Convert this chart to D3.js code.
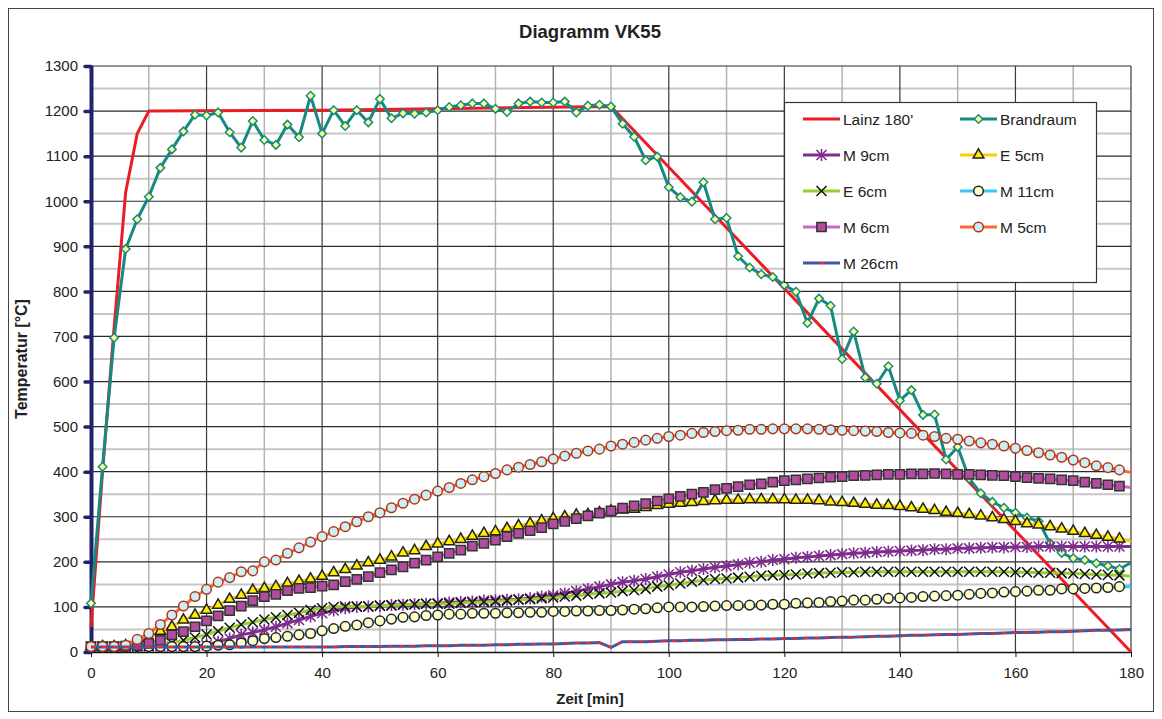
<!DOCTYPE html>
<html lang="de">
<head>
<meta charset="UTF-8">
<title>Diagramm VK55</title>
<style>
    body { margin: 0; background: #fff; }
    svg text { font-family: "Liberation Sans", Arial, sans-serif; fill: #222; }
</style>
</head>
<body>
<svg id="chart" width="1162" height="719"></svg>
<script src="https://cdnjs.cloudflare.com/ajax/libs/d3/7.8.5/d3.min.js"></script>
<script>
    // Messzeitpunkte alle 2 min
    var minutes = d3.range(0, 181, 2);

    // Lainz 180' Sollkurve (nur Knickpunkte)
    var lainzMin  = [0, 2, 4, 6, 8, 10, 40, 90, 180];
    var lainzTemp = [55, 400, 720, 1020, 1150, 1200, 1202, 1210, 0];

    var brandraum = [108, 411, 697, 894, 960, 1010, 1074, 1115, 1155, 1192, 1190, 1197, 1153, 1119, 1178, 1136,
        1125, 1170, 1142, 1234, 1150, 1202, 1167, 1202, 1175, 1227, 1184, 1195, 1194, 1197, 1202, 1209, 1213,
        1217, 1217, 1205, 1198, 1217, 1221, 1219, 1219, 1221, 1197, 1212, 1214, 1210, 1172, 1143, 1091, 1099,
        1031, 1009, 999, 1042, 960, 963, 878, 853, 838, 832, 814, 799, 730, 784, 768, 650, 711, 609, 595, 634,
        558, 581, 526, 527, 427, 455, 385, 352, 333, 320, 309, 298, 290, 241, 220, 208, 204, 197, 191, 184, 198];

    var m9 = [12, 12, 12, 12, 12, 12, 12, 12, 12, 13, 15, 23, 30, 38, 43, 49, 56, 64, 71, 79, 86, 92, 97, 100,
        101, 102, 104, 105, 106, 107, 108, 110, 111, 112, 114, 115, 116, 117, 119, 123, 126, 130, 135, 140, 145,
        150, 155, 158, 162, 167, 172, 177, 180, 184, 188, 191, 194, 198, 200, 204, 206, 209, 211, 213, 215, 217,
        219, 220, 222, 223, 224, 225, 226, 228, 228, 230, 230, 231, 232, 232, 233, 233, 234, 234, 234, 234, 234,
        234, 234, 234, 234];

    var e5 = [12, 12, 12, 14, 20, 30, 46, 56, 71, 82, 93, 104, 117, 126, 137, 141, 145, 152, 157, 162, 168, 176,
        183, 191, 198, 204, 211, 220, 225, 234, 240, 245, 250, 257, 263, 267, 274, 280, 285, 291, 296, 300, 304,
        305, 309, 313, 315, 317, 321, 325, 328, 330, 332, 334, 336, 337, 337, 338, 338, 338, 338, 337, 337, 336,
        333, 332, 330, 328, 326, 325, 323, 320, 317, 314, 310, 308, 305, 302, 298, 294, 290, 285, 282, 278, 273,
        268, 263, 259, 255, 251, 246];

    var e6 = [12, 12, 12, 12, 13, 14, 17, 20, 26, 32, 39, 46, 54, 61, 66, 72, 77, 82, 87, 93, 97, 100, 101, 101,
        101, 103, 103, 105, 106, 107, 107, 107, 109, 110, 111, 112, 114, 116, 117, 119, 121, 123, 125, 128, 130,
        132, 135, 137, 140, 145, 148, 152, 156, 159, 162, 163, 165, 167, 169, 170, 171, 172, 174, 175, 176, 177,
        177, 178, 178, 178, 178, 178, 178, 178, 178, 178, 178, 178, 178, 178, 177, 177, 176, 176, 175, 174, 173,
        172, 171, 170, 168];

    var m11 = [12, 12, 12, 12, 12, 12, 12, 12, 12, 12, 13, 15, 16, 20, 25, 30, 32, 35, 38, 41, 47, 52, 57, 60,
        65, 69, 73, 77, 78, 81, 82, 84, 84, 86, 86, 86, 87, 87, 88, 88, 90, 90, 91, 91, 92, 92, 93, 95, 96, 98,
        100, 100, 100, 101, 102, 103, 103, 104, 104, 106, 106, 108, 109, 110, 112, 113, 115, 115, 117, 119, 120,
        121, 123, 124, 125, 126, 128, 130, 131, 133, 134, 135, 137, 137, 140, 140, 141, 142, 143, 145, 145];

    var m6 = [12, 12, 12, 13, 14, 19, 26, 38, 45, 56, 69, 80, 92, 102, 114, 123, 128, 136, 141, 143, 146, 149,
        156, 161, 167, 176, 182, 189, 197, 204, 211, 219, 226, 235, 241, 248, 256, 263, 269, 276, 284, 290, 296,
        302, 308, 313, 319, 324, 329, 335, 340, 345, 350, 354, 360, 363, 367, 371, 373, 377, 380, 382, 384, 386,
        388, 389, 391, 392, 393, 394, 394, 395, 395, 396, 395, 394, 394, 393, 392, 391, 389, 387, 385, 384, 382,
        380, 377, 374, 371, 368, 365];

    var m5 = [12, 12, 12, 15, 28, 41, 61, 82, 102, 123, 139, 155, 165, 178, 180, 200, 204, 219, 231, 244, 256,
        267, 278, 289, 300, 309, 320, 330, 339, 348, 357, 365, 374, 382, 389, 396, 404, 410, 416, 422, 428, 435,
        441, 446, 450, 457, 461, 465, 470, 474, 478, 481, 485, 487, 489, 491, 492, 494, 494, 495, 495, 495, 495,
        494, 493, 492, 491, 490, 489, 487, 486, 485, 481, 478, 474, 472, 468, 464, 461, 457, 452, 447, 442, 437,
        432, 426, 420, 413, 409, 404, 398];

    var m26 = [11, 11, 11, 11, 11, 11, 11, 11, 11, 11, 11, 11, 11, 11, 11, 11, 11, 11, 11, 11, 11, 11, 12, 12,
        12, 12, 13, 13, 13, 14, 14, 14, 15, 15, 15, 16, 16, 17, 17, 18, 18, 19, 20, 20, 21, 10, 23, 23, 23, 24,
        25, 25, 26, 26, 27, 27, 28, 28, 29, 29, 30, 30, 31, 31, 32, 33, 33, 34, 35, 35, 36, 37, 37, 38, 39, 39,
        40, 41, 41, 42, 43, 43, 44, 45, 45, 46, 47, 48, 48, 49, 50];

    var yTicks = d3.range(0, 1301, 100);
    var xTicks = d3.range(0, 181, 20);

    function pts(values) {
        return values.map(function (v, i) { return [minutes[i], v]; });
    }

    var series = [
        { name: "Lainz 180'", data: lainzMin.map(function (m, i) { return [m, lainzTemp[i]]; }), color: '#ed1c24', width: 3 },
        { name: 'Brandraum', data: pts(brandraum), color: '#178a80', width: 3, marker: 'diamond', fill: '#ffff99', stroke: '#178a80' },
        { name: 'M 9cm', data: pts(m9), color: '#7d2e8c', width: 3, marker: 'star', stroke: '#7d2e8c' },
        { name: 'E 5cm', data: pts(e5), color: '#ffcc00', width: 3, marker: 'triangle', fill: '#ffee00', stroke: '#222' },
        { name: 'E 6cm', data: pts(e6), color: '#99cc33', width: 3, marker: 'x', stroke: '#111' },
        { name: 'M 11cm', data: pts(m11), color: '#33ccf0', width: 3, marker: 'circle', fill: '#ffffcc', stroke: '#222' },
        { name: 'M 6cm', data: pts(m6), color: '#cc66cc', width: 3, marker: 'square', fill: '#b24c9e', stroke: '#333' },
        { name: 'M 5cm', data: pts(m5), color: '#ff6633', width: 3, marker: 'circle', fill: '#cdeef4', stroke: '#b0361a' },
        { name: 'M 26cm', data: pts(m26), color: '#3b57a8', width: 3, dash: '#ee2a2a' }
    ];

    var svg = d3.select('#chart');
    var x = d3.scaleLinear().domain([0, 180]).range([91, 1131]);
    var y = d3.scaleLinear().domain([0, 1300]).range([652, 66]);

    // Rahmen
    svg.append('rect')
        .attr('x', 8.5).attr('y', 8.5).attr('width', 1145).attr('height', 703)
        .attr('fill', '#fff').attr('stroke', '#444').attr('stroke-width', 1);

    svg.append('text')
        .attr('x', 590).attr('y', 38)
        .attr('text-anchor', 'middle')
        .attr('font-size', 18.5).attr('font-weight', 'bold')
        .text('Diagramm VK55');

    // Gitter
    var grid = svg.append('g');
    grid.selectAll('.hminor')
        .data(d3.range(50, 1300, 100))
        .enter().append('line')
        .attr('x1', x(0)).attr('x2', x(180))
        .attr('y1', function (d) { return y(d); }).attr('y2', function (d) { return y(d); })
        .attr('stroke', '#c6c6c6').attr('stroke-width', 2);
    grid.selectAll('.vminor')
        .data(d3.range(10, 180, 20))
        .enter().append('line')
        .attr('x1', function (d) { return x(d); }).attr('x2', function (d) { return x(d); })
        .attr('y1', y(0)).attr('y2', y(1300))
        .attr('stroke', '#b4b4b4').attr('stroke-width', 1.5);
    grid.selectAll('.hmajor')
        .data(yTicks.slice(1))
        .enter().append('line')
        .attr('x1', x(0)).attr('x2', x(180))
        .attr('y1', function (d) { return y(d); }).attr('y2', function (d) { return y(d); })
        .attr('stroke', '#2a2a2a').attr('stroke-width', 1.2);
    grid.selectAll('.vmajor')
        .data(xTicks.slice(1))
        .enter().append('line')
        .attr('x1', function (d) { return x(d); }).attr('x2', function (d) { return x(d); })
        .attr('y1', y(0)).attr('y2', y(1300))
        .attr('stroke', '#3a3a3a').attr('stroke-width', 1.2);

    // x-Achse
    var xAxis = svg.append('g')
        .attr('transform', 'translate(0,' + y(0) + ')')
        .call(d3.axisBottom(x).tickValues(xTicks).tickFormat(d3.format('d')).tickSize(5).tickSizeOuter(0).tickPadding(10));
    xAxis.select('.domain').attr('stroke', '#111').attr('stroke-width', 1.5);
    xAxis.selectAll('.tick line').attr('stroke', '#111');
    xAxis.selectAll('text').attr('font-size', 15).attr('font-family', '"Liberation Sans", Arial, sans-serif').attr('fill', '#222');

    // y-Achse
    var yAxis = svg.append('g')
        .attr('transform', 'translate(' + x(0) + ',0)')
        .call(d3.axisLeft(y).tickValues(yTicks).tickFormat(d3.format('d')).tickSize(6).tickSizeOuter(0).tickPadding(7));
    yAxis.select('.domain').attr('stroke', '#23226e').attr('stroke-width', 4);
    yAxis.selectAll('.tick line').attr('stroke', '#23226e').attr('stroke-width', 3.5).attr('stroke-linecap', 'round');
    yAxis.selectAll('text').attr('font-size', 15).attr('font-family', '"Liberation Sans", Arial, sans-serif').attr('fill', '#222');

    svg.append('text')
        .attr('x', 590).attr('y', 704)
        .attr('text-anchor', 'middle')
        .attr('font-size', 15).attr('font-weight', 'bold')
        .text('Zeit [min]');
    svg.append('text')
        .attr('transform', 'translate(27,359) rotate(-90)')
        .attr('text-anchor', 'middle')
        .attr('font-size', 16).attr('font-weight', 'bold')
        .text('Temperatur [°C]');

    // Marker-Pfade
    function markerPath(type, s) {
        var r = s / 2;
        if (type === 'diamond') {
            var k = r * 0.85;
            return 'M0,' + -k + 'L' + k + ',0L0,' + k + 'L' + -k + ',0Z';
        }
        if (type === 'triangle') return d3.symbol().type(d3.symbolTriangle).size(s * s * 0.5)();
        if (type === 'square') return d3.symbol().type(d3.symbolSquare).size(s * s * 0.85)();
        if (type === 'circle') return d3.symbol().type(d3.symbolCircle).size(s * s * 0.72)();
        if (type === 'x') return 'M' + -r + ',' + -r + 'L' + r + ',' + r + 'M' + -r + ',' + r + 'L' + r + ',' + -r;
        // Stern = x + senkrechter Strich
        return 'M' + -r + ',' + -r + 'L' + r + ',' + r + 'M' + -r + ',' + r + 'L' + r + ',' + -r +
            'M0,' + (-r * 1.2) + 'L0,' + (r * 1.2);
    }

    function drawMarker(g, s, px, py) {
        var p = g.append('path')
            .attr('d', markerPath(s.marker, 10))
            .attr('transform', 'translate(' + px + ',' + py + ')');
        if (s.marker === 'x' || s.marker === 'star') {
            p.attr('fill', 'none').attr('stroke', s.stroke).attr('stroke-width', s.marker === 'star' ? 1.6 : 1.5);
        } else {
            p.attr('fill', s.fill).attr('stroke', s.stroke).attr('stroke-width', 1.5);
        }
    }

    var line = d3.line()
        .x(function (d) { return x(d[0]); })
        .y(function (d) { return y(d[1]); });

    var plot = svg.append('g');
    series.forEach(function (s) {
        var g = plot.append('g');
        g.append('path')
            .attr('d', line(s.data))
            .attr('fill', 'none')
            .attr('stroke', s.color)
            .attr('stroke-width', s.width)
            .attr('stroke-linejoin', 'round');
        if (s.dash) {
            g.append('path')
                .attr('d', line(s.data))
                .attr('fill', 'none')
                .attr('stroke', s.dash)
                .attr('stroke-width', 2)
                .attr('stroke-dasharray', '5,6');
        }
        if (s.marker) {
            // letzter Punkt (180 min) ohne Marker
            s.data.slice(0, -1).forEach(function (d) {
                drawMarker(g, s, x(d[0]), y(d[1]));
            });
        }
    });

    // Legende
    var legend = svg.append('g');
    legend.append('rect')
        .attr('x', 784.5).attr('y', 102.5).attr('width', 312).attr('height', 180)
        .attr('fill', '#fff').attr('stroke', '#333').attr('stroke-width', 1.2);

    var rowY = [119, 155, 191, 227, 263];
    var colX = [803, 960];
    series.forEach(function (s, i) {
        var gx = colX[i % 2], gy = rowY[Math.floor(i / 2)];
        var g = legend.append('g');
        g.append('line')
            .attr('x1', gx).attr('x2', gx + 37)
            .attr('y1', gy).attr('y2', gy)
            .attr('stroke', s.color).attr('stroke-width', 3);
        if (s.dash) {
            g.append('line')
                .attr('x1', gx + 16).attr('x2', gx + 22)
                .attr('y1', gy).attr('y2', gy)
                .attr('stroke', s.dash).attr('stroke-width', 2);
        }
        if (s.marker) drawMarker(g, s, gx + 18.5, gy);
        g.append('text')
            .attr('x', gx + 40).attr('y', gy + 6)
            .attr('font-size', 15.5)
            .text(s.name);
    });
</script>
</body>
</html>
